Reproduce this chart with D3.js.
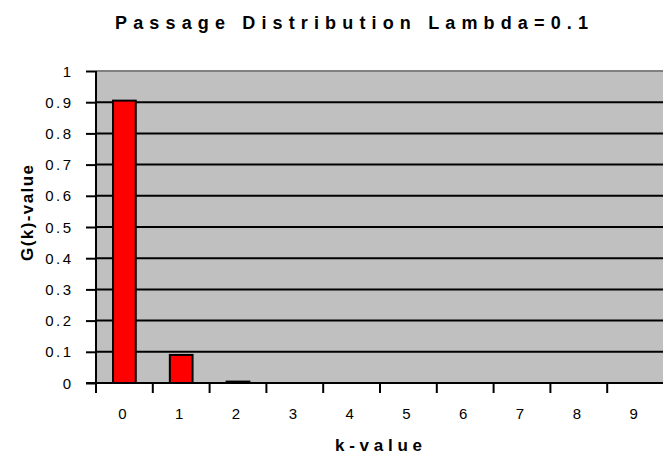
<!DOCTYPE html>
<html>
<head>
<meta charset="utf-8">
<script src="https://cdn.jsdelivr.net/npm/d3@7"></script>
<style>
  body { margin: 0; background: #fff; }
  text { font-family: Arial, "Liberation Sans", sans-serif; fill: #000; }
</style>
</head>
<body>
<svg id="chart" width="663" height="459"></svg>
<script>
// Datos de la gráfica
const kValues = ['0', '1', '2', '3', '4', '5', '6', '7', '8', '9'];
const gValues = [0.905, 0.090, 0.0045, 0.0002, 0, 0, 0, 0, 0, 0];
const yTicks = [0, 0.1, 0.2, 0.3, 0.4, 0.5, 0.6, 0.7, 0.8, 0.9, 1];
const titleText = 'Passage Distribution Lambda=0.1';
const xTitle = 'k-value';
const yTitle = 'G(k)-value';

const svg = d3.select('#chart');
const m = { l: 96, r: 664, t: 71, b: 383 };

const x = d3.scaleBand().domain(kValues).range([m.l, m.r])
    .paddingInner(0.6).paddingOuter(0.3);
const y = d3.scaleLinear().domain([0, 1]).range([m.b, m.t]);

// Fondo gris del área de trazado
svg.append('rect')
    .attr('x', m.l).attr('y', m.t)
    .attr('width', m.r - m.l).attr('height', m.b - m.t)
    .attr('fill', '#c0c0c0');

// Borde superior gris
svg.append('line')
    .attr('x1', m.l).attr('x2', m.r)
    .attr('y1', y(1)).attr('y2', y(1))
    .attr('stroke', '#808080').attr('stroke-width', 2);

// Líneas de cuadrícula
svg.selectAll('.grid')
    .data(yTicks.filter(d => d > 0 && d < 1))
    .enter().append('line')
    .attr('x1', m.l).attr('x2', m.r)
    .attr('y1', d => y(d)).attr('y2', d => y(d))
    .attr('stroke', '#000').attr('stroke-width', 2);

// Barras
svg.selectAll('.bar')
    .data(gValues)
    .enter().append('rect')
    .attr('x', (d, i) => x(kValues[i]))
    .attr('y', d => y(d))
    .attr('width', x.bandwidth())
    .attr('height', d => y(0) - y(d))
    .attr('fill', '#ff0000')
    .attr('stroke', '#000')
    .attr('stroke-width', d => d > 0.001 ? 2 : 0);

// Eje Y
const yAxis = d3.axisLeft(y).tickValues(yTicks).tickSize(10).tickPadding(14)
    .tickFormat(d => String(d));
const gy = svg.append('g').attr('transform', `translate(${m.l},0)`).call(yAxis);
gy.select('.domain').attr('stroke', '#000').attr('stroke-width', 2).attr('d', `M0,${m.t}V${m.b}`);
gy.selectAll('.tick line').attr('stroke', '#000').attr('stroke-width', 2);
gy.selectAll('.tick text')
    .attr('font-size', 15).attr('font-family', 'Arial, "Liberation Sans", sans-serif')
    .attr('fill', '#000').style('letter-spacing', '2.5px').attr('dy', '0.34em')
    .attr('x', -22.5);

// Eje X con marcas en los límites de categoría
const step = x.step();
const bounds = d3.range(kValues.length + 1).map(i => m.l + i * step);
svg.append('line')
    .attr('x1', m.l - 10).attr('x2', m.r)
    .attr('y1', y(0)).attr('y2', y(0))
    .attr('stroke', '#000').attr('stroke-width', 2);
svg.selectAll('.xtick')
    .data(bounds)
    .enter().append('line')
    .attr('x1', d => d).attr('x2', d => d)
    .attr('y1', y(0)).attr('y2', y(0) + 10)
    .attr('stroke', '#000').attr('stroke-width', 2);
svg.selectAll('.xlabel')
    .data(kValues)
    .enter().append('text')
    .attr('x', d => x(d) + x.bandwidth() / 2 - 2)
    .attr('y', 419)
    .attr('text-anchor', 'middle')
    .attr('font-size', 15)
    .text(d => d);

// Ajustar espaciado de letras para que el texto ocupe un ancho dado
function spaced(sel, width) {
    const node = sel.node();
    const natural = node.getComputedTextLength();
    const n = node.textContent.length;
    sel.style('letter-spacing', ((width - natural) / (n - 1)) + 'px');
}

// Título
const t = svg.append('text')
    .attr('x', 351).attr('y', 29)
    .attr('text-anchor', 'start')
    .attr('font-size', 18).attr('font-weight', 'bold')
    .text(titleText);
spaced(t, 473);
t.attr('x', 115);

// Título eje X
const xt = svg.append('text')
    .attr('x', 335).attr('y', 451)
    .attr('font-size', 17).attr('font-weight', 'bold')
    .text(xTitle);
spaced(xt, 87);

// Título eje Y
const yt = svg.append('text')
    .attr('transform', 'translate(33,261) rotate(-90)')
    .attr('font-size', 17).attr('font-weight', 'bold')
    .text(yTitle);
spaced(yt, 96);
</script>
</body>
</html>
